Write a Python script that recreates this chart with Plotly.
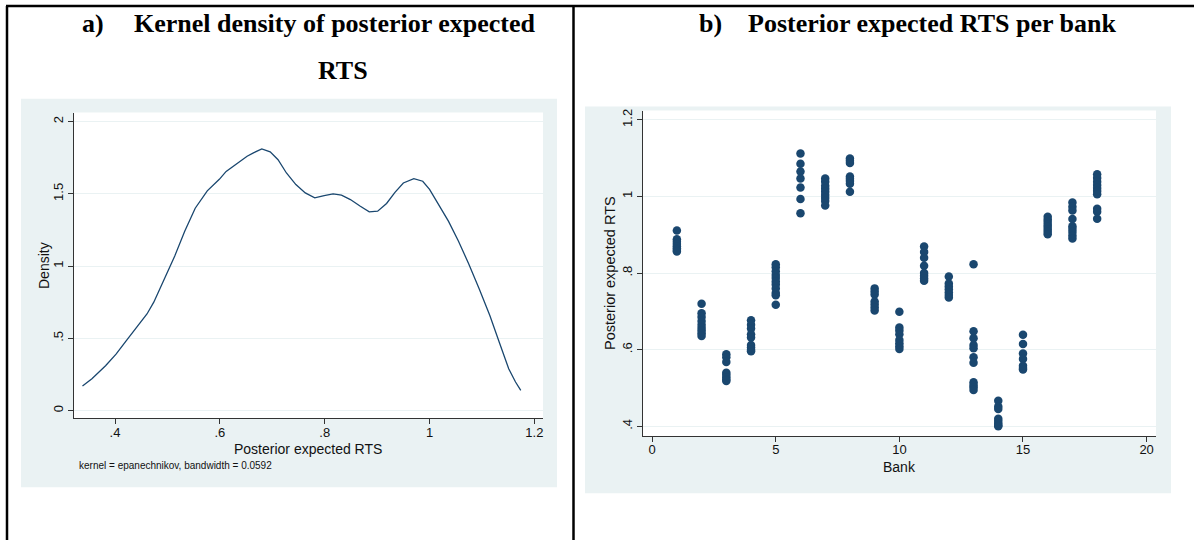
import plotly.graph_objects as go

# ---------------- data ----------------
# Panel a) kernel density of posterior expected RTS
density_x = [0.338, 0.356, 0.382, 0.402, 0.422, 0.441, 0.461, 0.474, 0.494, 0.514,
             0.533, 0.553, 0.576, 0.599, 0.612, 0.632, 0.652, 0.665, 0.680, 0.696,
             0.711, 0.727, 0.745, 0.763, 0.781, 0.799, 0.816, 0.832, 0.849, 0.868,
             0.885, 0.901, 0.918, 0.934, 0.950, 0.970, 0.987, 1.000, 1.016, 1.036,
             1.055, 1.075, 1.095, 1.115, 1.134, 1.151, 1.164, 1.174]
density_y = [0.17, 0.22, 0.31, 0.39, 0.485, 0.576, 0.668, 0.75, 0.91, 1.07,
             1.24, 1.40, 1.52, 1.60, 1.655, 1.71, 1.76, 1.785, 1.81, 1.79,
             1.736, 1.644, 1.564, 1.506, 1.472, 1.488, 1.50, 1.49, 1.46, 1.414,
             1.375, 1.38, 1.433, 1.51, 1.575, 1.605, 1.587, 1.53, 1.437, 1.311,
             1.173, 1.013, 0.84, 0.657, 0.462, 0.289, 0.197, 0.14]

# Panel b) posterior expected RTS per bank
bank_1 = [0.911, 0.888, 0.882, 0.876, 0.870, 0.865, 0.860, 0.856]
bank_2 = [0.720, 0.695, 0.685, 0.675, 0.665, 0.657, 0.650, 0.643, 0.636]
bank_3 = [0.588, 0.580, 0.568, 0.540, 0.534, 0.528, 0.522, 0.518]
bank_4 = [0.677, 0.665, 0.655, 0.640, 0.632, 0.612, 0.606, 0.600, 0.596]
bank_5 = [0.823, 0.815, 0.805, 0.795, 0.787, 0.778, 0.770, 0.760, 0.748, 0.742, 0.717]
bank_6 = [1.112, 1.085, 1.065, 1.047, 1.023, 0.993, 0.956]
bank_7 = [1.047, 1.038, 1.028, 1.020, 1.012, 1.004, 0.996, 0.988, 0.976]
bank_8 = [1.099, 1.093, 1.087, 1.052, 1.046, 1.040, 1.033, 1.012]
bank_9 = [0.760, 0.752, 0.744, 0.726, 0.718, 0.710, 0.702]
bank_10 = [0.699, 0.658, 0.650, 0.640, 0.625, 0.617, 0.609, 0.602]
bank_11 = [0.869, 0.855, 0.840, 0.819, 0.800, 0.793, 0.786, 0.780]
bank_12 = [0.791, 0.773, 0.765, 0.758, 0.750, 0.743, 0.736]
bank_13 = [0.823, 0.648, 0.630, 0.612, 0.604, 0.580, 0.566, 0.515, 0.508, 0.502, 0.495]
bank_14 = [0.467, 0.452, 0.445, 0.420, 0.414, 0.408, 0.403, 0.400]
bank_15 = [0.639, 0.615, 0.590, 0.576, 0.558, 0.552, 0.548]
bank_16 = [0.947, 0.940, 0.933, 0.926, 0.920, 0.914, 0.907, 0.901]
bank_17 = [0.984, 0.973, 0.963, 0.941, 0.922, 0.915, 0.907, 0.898, 0.890]
bank_18 = [1.058, 1.048, 1.038, 1.030, 1.022, 1.014, 1.006, 0.968, 0.960, 0.942]

banks = [bank_1, bank_2, bank_3, bank_4, bank_5, bank_6, bank_7, bank_8, bank_9,
         bank_10, bank_11, bank_12, bank_13, bank_14, bank_15, bank_16, bank_17, bank_18]

xa_tickvals = [0.4, 0.6, 0.8, 1.0, 1.2]
xa_ticktext = [".4", ".6", ".8", "1", "1.2"]
ya_tickvals = [0, 0.5, 1, 1.5, 2]
ya_ticktext = ["0", ".5", "1", "1.5", "2"]
xb_tickvals = [0, 5, 10, 15, 20]
xb_ticktext = ["0", "5", "10", "15", "20"]
yb_tickvals = [0.4, 0.6, 0.8, 1.0, 1.2]
yb_ticktext = [".4", ".6", ".8", "1", "1.2"]

# ---------------- layout helpers ----------------
W, H = 1194, 540
def px(x):
    return x / W
def py(y):
    return 1 - y / H

NAVY = "#1a476f"
BG = "#eaf2f3"
GRID = "#eaf2f3"
SANS = "Liberation Sans, Arial, sans-serif"
SERIF = "Liberation Serif, Times New Roman, serif"

bank_x, bank_y = [], []
for i, vals in enumerate(banks, start=1):
    bank_x.extend([i] * len(vals))
    bank_y.extend(vals)

fig = go.Figure()
fig.add_trace(go.Scatter(x=density_x, y=density_y, mode="lines",
                         line=dict(color=NAVY, width=1.3),
                         xaxis="x", yaxis="y", showlegend=False, hoverinfo="skip"))
fig.add_trace(go.Scatter(x=bank_x, y=bank_y, mode="markers",
                         marker=dict(color=NAVY, size=8.5, line=dict(width=0)),
                         xaxis="x2", yaxis="y2", showlegend=False, hoverinfo="skip"))

axis_common = dict(showline=True, linecolor="#333333", linewidth=1, ticks="outside",
                   ticklen=5, tickcolor="#333333", tickwidth=1, zeroline=False,
                   tickfont=dict(family=SANS, size=13, color="#111111"), mirror=False)

fig.update_layout(
    width=W, height=H,
    margin=dict(l=0, r=0, t=0, b=0),
    paper_bgcolor="white",
    plot_bgcolor="rgba(0,0,0,0)",
    xaxis=dict(domain=[px(74), px(543)], range=[0.3218, 1.2164], anchor="y",
               tickvals=xa_tickvals, ticktext=xa_ticktext, showgrid=False,
               ticklabelstandoff=-3, **axis_common),
    yaxis=dict(domain=[py(418), py(111)], range=[-0.055, 2.062], anchor="x",
               tickvals=ya_tickvals, ticktext=ya_ticktext, tickangle=-90,
               showgrid=True, gridcolor=GRID, gridwidth=1.2, **axis_common),
    xaxis2=dict(domain=[px(643), px(1156)], range=[-0.37, 20.38], anchor="y2",
                tickvals=xb_tickvals, ticktext=xb_ticktext, showgrid=False,
                ticklabelstandoff=-3, **axis_common),
    yaxis2=dict(domain=[py(435.5), py(109)], range=[0.375, 1.224], anchor="x2",
                tickvals=yb_tickvals, ticktext=yb_ticktext, tickangle=-90,
                showgrid=True, gridcolor=GRID, gridwidth=1.2, **axis_common),
)

shapes = [
    # graph region backgrounds
    dict(type="rect", xref="paper", yref="paper", x0=px(21), x1=px(557), y0=py(487), y1=py(97),
         fillcolor=BG, line=dict(width=0), layer="below"),
    dict(type="rect", xref="paper", yref="paper", x0=px(585), x1=px(1171), y0=py(493), y1=py(105),
         fillcolor=BG, line=dict(width=0), layer="below"),
    # plot regions
    dict(type="rect", xref="paper", yref="paper", x0=px(74), x1=px(543), y0=py(418), y1=py(111),
         fillcolor="white", line=dict(width=0), layer="below"),
    dict(type="rect", xref="paper", yref="paper", x0=px(643), x1=px(1156), y0=py(435.5), y1=py(109),
         fillcolor="white", line=dict(width=0), layer="below"),
    # table borders
    dict(type="line", xref="paper", yref="paper", x0=px(6), x1=1, y0=py(4), y1=py(4),
         line=dict(color="black", width=2.5)),
    dict(type="line", xref="paper", yref="paper", x0=px(7), x1=px(7), y0=py(4), y1=0,
         line=dict(color="black", width=2.5)),
    dict(type="line", xref="paper", yref="paper", x0=px(573.5), x1=px(573.5), y0=py(4), y1=0,
         line=dict(color="black", width=2.5)),
]
fig.update_layout(shapes=shapes)

title_font = dict(family=SERIF, size=26, color="black")
ann = [
    dict(text="<b>a)</b>", x=px(80), y=py(22), xanchor="left", yanchor="middle", font=title_font),
    dict(text="<b>Kernel density of posterior expected</b>", x=px(132), y=py(22),
         xanchor="left", yanchor="middle", font=title_font),
    dict(text="<b>RTS</b>", x=px(343), y=py(69), xanchor="center", yanchor="middle", font=title_font),
    dict(text="<b>b)</b>", x=px(697), y=py(22), xanchor="left", yanchor="middle", font=title_font),
    dict(text="<b>Posterior expected RTS per bank</b>", x=px(746), y=py(22),
         xanchor="left", yanchor="middle", font=title_font),
    # axis titles
    dict(text="Posterior expected RTS", x=px(308), y=py(448.5), xanchor="center", yanchor="middle",
         font=dict(family=SANS, size=14, color="#111111")),
    dict(text="Density", x=px(44), y=py(265), xanchor="center", yanchor="middle", textangle=-90,
         font=dict(family=SANS, size=14, color="#111111")),
    dict(text="kernel = epanechnikov, bandwidth = 0.0592", x=px(77), y=py(465),
         xanchor="left", yanchor="middle", font=dict(family=SANS, size=10, color="#111111")),
    dict(text="Bank", x=px(899), y=py(467), xanchor="center", yanchor="middle",
         font=dict(family=SANS, size=14, color="#111111")),
    dict(text="Posterior expected RTS", x=px(610), y=py(272), xanchor="center", yanchor="middle",
         textangle=-90, font=dict(family=SANS, size=14.5, color="#111111")),
]
for a in ann:
    a.update(xref="paper", yref="paper", showarrow=False)
fig.update_layout(annotations=ann)

fig.write_html("out.html", config={"displayModeBar": False},
               post_script="document.body.style.margin='0';document.body.style.overflow='hidden';")
